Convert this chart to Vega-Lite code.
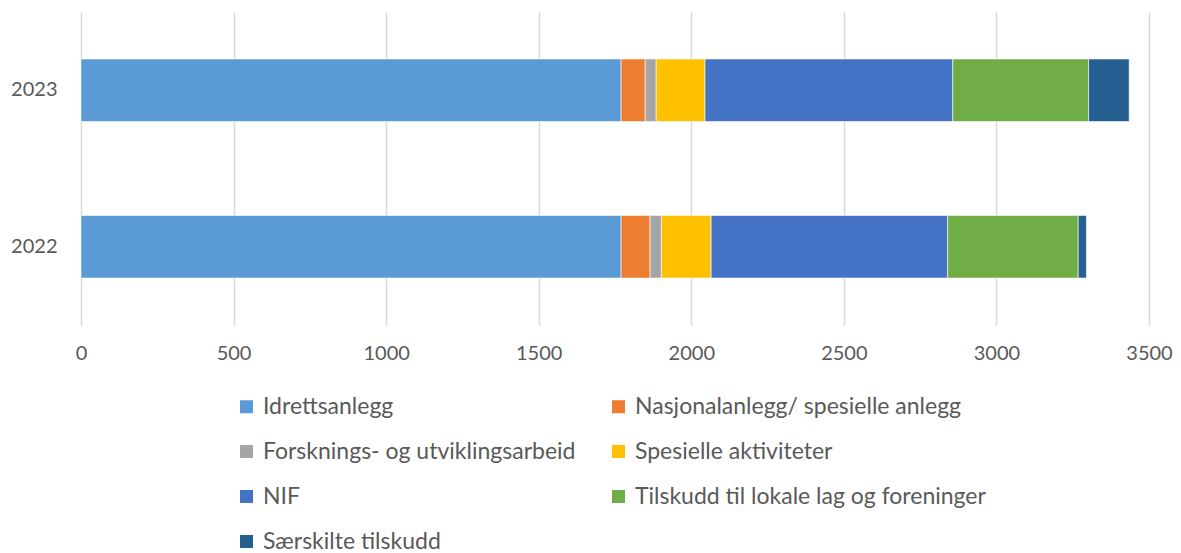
{
  "$schema": "https://vega.github.io/schema/vega-lite/v6.json",
  "width": 1068,
  "height": 313,
  "autosize": {"type": "none"},
  "padding": {"left": 81, "top": 12, "right": 32, "bottom": 228},
  "background": "white",
  "config": {"view": {"stroke": null}, "font": "Lato"},
  "data": {"values": [
    {"year": "2023", "cat": "Idrettsanlegg", "o": 1, "v": 1770},
    {"year": "2023", "cat": "Nasjonalanlegg/ spesielle anlegg", "o": 2, "v": 79},
    {"year": "2023", "cat": "Forsknings- og utviklingsarbeid", "o": 3, "v": 36},
    {"year": "2023", "cat": "Spesielle aktiviteter", "o": 4, "v": 160},
    {"year": "2023", "cat": "NIF", "o": 5, "v": 812},
    {"year": "2023", "cat": "Tilskudd til lokale lag og foreninger", "o": 6, "v": 445},
    {"year": "2023", "cat": "Særskilte tilskudd", "o": 7, "v": 133},
    {"year": "2022", "cat": "Idrettsanlegg", "o": 1, "v": 1770},
    {"year": "2022", "cat": "Nasjonalanlegg/ spesielle anlegg", "o": 2, "v": 95},
    {"year": "2022", "cat": "Forsknings- og utviklingsarbeid", "o": 3, "v": 37},
    {"year": "2022", "cat": "Spesielle aktiviteter", "o": 4, "v": 163},
    {"year": "2022", "cat": "NIF", "o": 5, "v": 775},
    {"year": "2022", "cat": "Tilskudd til lokale lag og foreninger", "o": 6, "v": 428},
    {"year": "2022", "cat": "Særskilte tilskudd", "o": 7, "v": 27}
  ]},
  "mark": {"type": "bar", "stroke": "white", "strokeWidth": 0.6},
  "encoding": {
    "y": {
      "field": "year", "type": "nominal",
      "scale": {"domain": ["2023", "2022"], "paddingInner": 0.6, "paddingOuter": 0.3},
      "axis": {"title": null, "domain": false, "ticks": false, "labelFontSize": 20, "labelColor": "#595959", "labelPadding": 24}
    },
    "x": {
      "field": "v", "type": "quantitative", "stack": "zero",
      "scale": {"domain": [0, 3500], "nice": false},
      "axis": {"title": null, "domain": false, "ticks": false, "format": "d", "values": [0, 500, 1000, 1500, 2000, 2500, 3000, 3500], "gridColor": "#d9d9d9", "gridWidth": 1.5, "labelFontSize": 20, "labelColor": "#595959", "labelPadding": 18, "labelFlush": false}
    },
    "order": {"field": "o", "type": "quantitative"},
    "color": {
      "field": "cat", "type": "nominal",
      "scale": {
        "domain": ["Idrettsanlegg", "Forsknings- og utviklingsarbeid", "NIF", "Særskilte tilskudd", "Nasjonalanlegg/ spesielle anlegg", "Spesielle aktiviteter", "Tilskudd til lokale lag og foreninger"],
        "range": ["#5B9BD5", "#A5A5A5", "#4472C4", "#255E91", "#ED7D31", "#FFC000", "#70AD47"]
      },
      "legend": {
        "title": null, "orient": "none", "legendX": 154, "legendY": 383, "columns": 2,
        "symbolType": "square", "symbolSize": 169, "symbolStrokeWidth": 0,
        "labelFontSize": 23, "labelColor": "#595959", "labelOffset": 5,
        "rowPadding": 21, "columnPadding": 31, "labelLimit": 500
      }
    }
  }
}
